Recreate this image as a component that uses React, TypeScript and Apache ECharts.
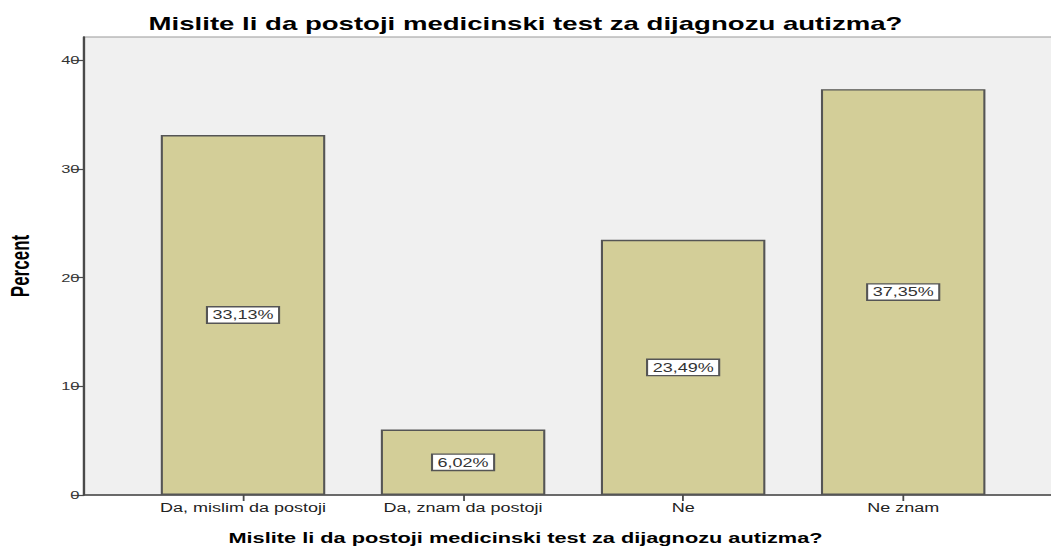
import React, { useEffect, useRef } from "react";
import * as echarts from "echarts";

const chartTitle = "Mislite li da postoji medicinski test za dijagnozu autizma?";
const xAxisTitle = "Mislite li da postoji medicinski test za dijagnozu autizma?";
const yAxisTitle = "Percent";
const categories = ["Da, mislim da postoji", "Da, znam da postoji", "Ne", "Ne znam"];
const percentValues = [33.13, 6.02, 23.49, 37.35];
const percentLabels = ["33,13%", "6,02%", "23,49%", "37,35%"];

const SCALE = 1051 / 701;
const FONT = "'Liberation Sans', Arial, sans-serif";

export default function App() {
  const ref = useRef<HTMLDivElement>(null);
  useEffect(() => {
    if (!ref.current) return;
    const chart = echarts.init(ref.current, undefined, { renderer: "svg" });
    chart.setOption({
      animation: false,
      backgroundColor: "#ffffff",
      textStyle: { fontFamily: FONT },
      title: [
        {
          text: chartTitle,
          left: "center",
          top: 10,
          textStyle: { fontFamily: FONT, fontSize: 18.4, fontWeight: "bold", color: "#000" },
        },
        {
          text: xAxisTitle,
          left: "center",
          top: 525,
          textStyle: { fontFamily: FONT, fontSize: 14.5, fontWeight: "bold", color: "#000" },
        },
      ],
      grid: [
        {
          left: 56,
          right: -6,
          top: 37,
          bottom: 52,
          show: true,
          backgroundColor: "#f0f0f0",
          borderColor: "#9a9a9a",
          borderWidth: 1,
          outerBoundsMode: "none",
          containLabel: false,
        },
        { left: 88.7, right: 25.2, top: 37, bottom: 52, outerBoundsMode: "none", containLabel: false },
      ],
      xAxis: [
        {
          gridIndex: 0,
          type: "value",
          min: 0,
          max: 1,
          axisLine: { show: true, onZero: false, lineStyle: { color: "#4a4a4a", width: 1.6 } },
          axisTick: { show: false },
          axisLabel: { show: false },
          splitLine: { show: false },
        },
        {
          gridIndex: 1,
          type: "category",
          data: categories,
          position: "bottom",
          axisLine: { show: false },
          axisTick: { show: true, alignWithLabel: true, length: 6, lineStyle: { color: "#4a4a4a", width: 1.2 } },
          axisLabel: { margin: 7, fontSize: 12, color: "#222", fontFamily: FONT },
          splitLine: { show: false },
        },
      ],
      yAxis: [
        {
          gridIndex: 0,
          type: "value",
          min: 0,
          max: 42.15,
          interval: 10,
          name: yAxisTitle,
          nameLocation: "middle",
          nameRotate: 90,
          nameGap: 34,
          nameTextStyle: { fontFamily: FONT, fontSize: 17, fontWeight: "bold", color: "#000" },
          axisLine: { show: true, lineStyle: { color: "#4a4a4a", width: 1.6 } },
          axisTick: { show: true, length: 8, lineStyle: { color: "#4a4a4a", width: 1.2 } },
          axisLabel: { margin: 3, fontSize: 11, color: "#333", fontFamily: FONT, showMaxLabel: false },
          splitLine: { show: false },
        },
        {
          gridIndex: 1,
          type: "value",
          min: 0,
          max: 42.15,
          show: false,
          splitLine: { show: false },
        },
      ],
      series: [
        {
          type: "bar",
          xAxisIndex: 1,
          yAxisIndex: 1,
          barWidth: 109.7,
          data: percentValues,
          itemStyle: { color: "#d3ce98", borderColor: "#555", borderWidth: 1.4 },
          label: {
            show: true,
            position: "inside",
            formatter: (p: any) => percentLabels[p.dataIndex],
            fontFamily: FONT,
            fontSize: 12,
            color: "#333",
            backgroundColor: "#fff",
            borderColor: "#555",
            borderWidth: 1.4,
            padding: [2, 3, 1, 3],
          },
        },
      ],
    });
    return () => chart.dispose();
  }, []);

  return (
    <div
      style={{
        position: "fixed",
        left: 0,
        top: 0,
        width: 1051,
        height: 547,
        overflow: "hidden",
        background: "#fff",
      }}
    >
      <div
        ref={ref}
        style={{
          width: 701,
          height: 547,
          transform: `scaleX(${SCALE})`,
          transformOrigin: "0 0",
        }}
      />
    </div>
  );
}
